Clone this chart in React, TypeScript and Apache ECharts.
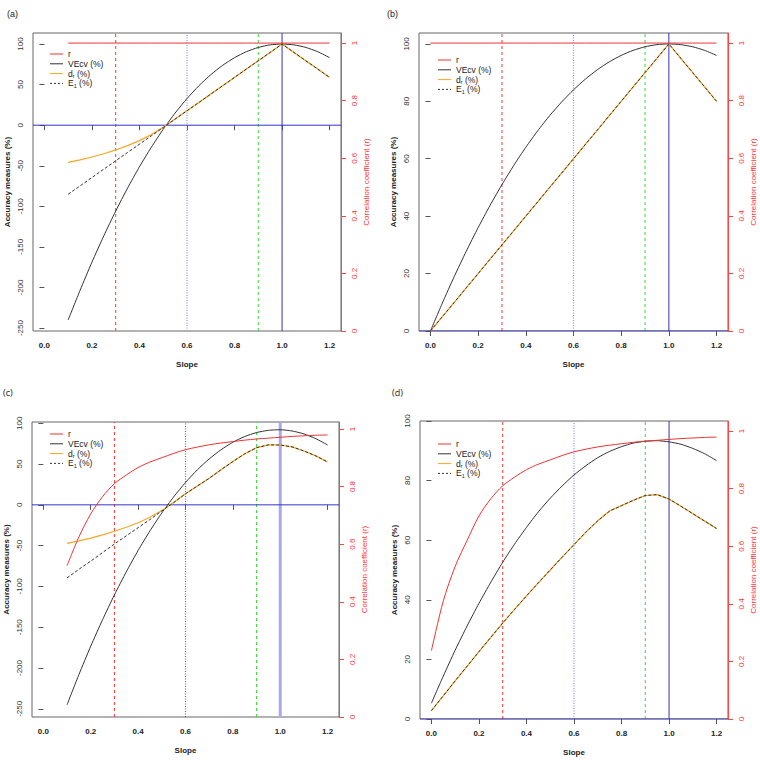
import React, { useEffect, useRef } from "react";
import * as echarts from "echarts";

// Slope values
const slopeFrom01 = [0.1, 0.15, 0.2, 0.25, 0.3, 0.35, 0.4, 0.45, 0.5, 0.55, 0.6, 0.65, 0.7, 0.75, 0.8, 0.85, 0.9, 0.95, 1.0, 1.05, 1.1, 1.15, 1.2];
const slopeFrom0 = [0, 0.05, 0.1, 0.15, 0.2, 0.25, 0.3, 0.35, 0.4, 0.45, 0.5, 0.55, 0.6, 0.65, 0.7, 0.75, 0.8, 0.85, 0.9, 0.95, 1.0, 1.05, 1.1, 1.15, 1.2];

// Panel (a)
const rA = [1, 1, 1, 1, 1, 1, 1, 1, 1, 1, 1, 1, 1, 1, 1, 1, 1, 1, 1, 1, 1, 1, 1];
const vecvA = [-240, -203.5, -168.8, -136.3, -105.8, -77.5, -51.2, -27.1, -5, 15, 32.8, 48.6, 62.2, 73.8, 83.2, 90.6, 95.8, 99, 100, 99, 95.8, 90.6, 83.2];
const drA = [-45.9, -42.8, -39.2, -35.2, -30.5, -25.2, -19, -11.6, -2.7, 7.5, 17.8, 28, 38.3, 48.6, 58.9, 69.2, 79.4, 89.7, 100, 89.7, 79.4, 69.2, 58.9];
const e1A = [-85, -74.8, -64.5, -54.2, -43.9, -33.6, -23.4, -13.1, -2.8, 7.5, 17.8, 28, 38.3, 48.6, 58.9, 69.2, 79.4, 89.7, 100, 89.7, 79.4, 69.2, 58.9];

// Panel (b)
const rB = [1, 1, 1, 1, 1, 1, 1, 1, 1, 1, 1, 1, 1, 1, 1, 1, 1, 1, 1, 1, 1, 1, 1, 1, 1];
const vecvB = [0, 9.75, 19, 27.75, 36, 43.75, 51, 57.75, 64, 69.75, 75, 79.75, 84, 87.75, 91, 93.75, 96, 97.75, 99, 99.75, 100, 99.75, 99, 97.75, 96];
const drB = [0, 5, 10, 15, 20, 25, 30, 35, 40, 45, 50, 55, 60, 65, 70, 75, 80, 85, 90, 95, 100, 95, 90, 85, 80];
const e1B = [0, 5, 10, 15, 20, 25, 30, 35, 40, 45, 50, 55, 60, 65, 70, 75, 80, 85, 90, 95, 100, 95, 90, 85, 80];

// Panel (c)
const rC = [0.525, 0.625, 0.705, 0.765, 0.81, 0.84, 0.866, 0.885, 0.9, 0.915, 0.928, 0.937, 0.945, 0.951, 0.956, 0.961, 0.965, 0.968, 0.971, 0.974, 0.976, 0.978, 0.979];
const vecvC = [-245, -208, -173.2, -140.7, -110.3, -82.1, -55.9, -31.9, -10, 9.7, 27.4, 42.9, 56.3, 67.5, 76.7, 83.7, 88.6, 91.3, 92, 90.5, 86.9, 81.1, 73.3];
const drC = [-47.2, -44.1, -40.8, -36.9, -32.4, -27.5, -21.9, -15.3, -7, 2.8, 13.5, 23, 32.5, 43, 53, 62.5, 70, 73.5, 73.3, 71, 66, 60, 52.5];
const e1C = [-89.5, -79, -69, -58.5, -48, -38, -28, -18, -7.5, 2.8, 13.5, 23, 32.5, 43, 53, 62.5, 70, 73.5, 73.3, 71, 66, 60, 52.5];

// Panel (d)
const rD = [0.237, 0.41, 0.53, 0.62, 0.705, 0.765, 0.81, 0.84, 0.866, 0.885, 0.9, 0.915, 0.928, 0.937, 0.945, 0.951, 0.956, 0.961, 0.965, 0.968, 0.971, 0.974, 0.976, 0.978, 0.979];
const vecvD = [5.3, 14.4, 23.1, 31.2, 38.8, 45.9, 52.6, 58.7, 64.3, 69.5, 74.1, 78.2, 81.9, 85, 87.7, 89.8, 91.4, 92.6, 93.2, 93.4, 93, 92.2, 90.8, 89, 86.7];
const drD = [2.8, 7.8, 12.8, 17.7, 22.6, 27.4, 32.2, 36.8, 41.3, 45.7, 50, 54.3, 58.5, 62.7, 66.5, 69.8, 71.6, 73.4, 75, 75.3, 73.8, 71.4, 68.9, 66.4, 63.9];
const e1D = [2.8, 7.8, 12.8, 17.7, 22.6, 27.4, 32.2, 36.8, 41.3, 45.7, 50, 54.3, 58.5, 62.7, 66.5, 69.8, 71.6, 73.4, 75, 75.3, 73.8, 71.4, 68.9, 66.4, 63.9];

// Ticks
const xTicks = [0, 0.2, 0.4, 0.6, 0.8, 1.0, 1.2];
const yTicksWide = [-250, -200, -150, -100, -50, 0, 50, 100];
const yTicksNarrow = [0, 20, 40, 60, 80, 100];
const rTicks = [0, 0.2, 0.4, 0.6, 0.8, 1];

// Reference lines (slope values and accuracy value)
const refSlopes = [0.3, 0.6, 0.9, 1.0];
const refAccuracy = 0;

const panelLabels = ["(a)", "(b)", "(c)", "(d)"];
const legendNames = ["r", "VEcv (%)", "dr (%)", "E1 (%)"];

const FONT = "'Liberation Sans', Arial, Helvetica, sans-serif";
const X_MIN = -0.048;
const X_MAX = 1.248;

const panels = [
  { label: panelLabels[0], xs: slopeFrom01, r: rA, vecv: vecvA, dr: drA, e1: e1A, yTicks: yTicksWide, yMin: -253.6, yMax: 113.6, rMax: 1.035, grid: { left: 33, top: 33, width: 308, height: 298 }, labelPos: [7, 9], legend: [50, 54], blue1Width: 1, blue1Color: "#3333bb", dotColor: "#9090ff", smoothR: false, labelFont: FONT },
  { label: panelLabels[1], xs: slopeFrom0, r: rB, vecv: vecvB, dr: drB, e1: e1B, yTicks: yTicksNarrow, yMin: 0, yMax: 103.8, rMax: 1.035, grid: { left: 419, top: 33, width: 309, height: 298 }, labelPos: [387, 9], legend: [438, 60], blue1Width: 1, blue1Color: "#3333bb", dotColor: "#9090ff", smoothR: false, labelFont: FONT },
  { label: panelLabels[2], xs: slopeFrom01, r: rC, vecv: vecvC, dr: drC, e1: e1C, yTicks: yTicksWide, yMin: -260, yMax: 101.5, rMax: 1.024, grid: { left: 32, top: 422, width: 307, height: 295 }, labelPos: [3, 388], legend: [50, 434], blue1Width: 3, blue1Color: "#a8a8f0", dotColor: "#6060cc", smoothR: true, labelFont: "'Open Sans', 'Noto Sans', sans-serif" },
  { label: panelLabels[3], xs: slopeFrom0, r: rD, vecv: vecvD, dr: drD, e1: e1D, yTicks: yTicksNarrow, yMin: 0, yMax: 100, rMax: 1.035, grid: { left: 420, top: 421, width: 308, height: 298 }, labelPos: [392, 388], legend: [438, 444], blue1Width: 1, blue1Color: "#3333bb", dotColor: "#9090ff", smoothR: true, labelFont: "'Open Sans', 'Noto Sans', sans-serif" },
];

function pairs(xs: number[], ys: number[]) {
  return xs.map((x, i) => [x, ys[i]]);
}

export default function App() {
  const ref = useRef<HTMLDivElement>(null);
  useEffect(() => {
    if (!ref.current) return;
    const chart = echarts.init(ref.current, null, { renderer: "svg" });
    const grid: any[] = [];
    const xAxis: any[] = [];
    const yAxis: any[] = [];
    const series: any[] = [];
    const graphic: any[] = [];

    panels.forEach((p, i) => {
      grid.push({ ...p.grid, show: true, borderColor: "#666", borderWidth: 1, backgroundColor: "transparent" });
      xAxis.push({
        type: "value", gridIndex: i, min: X_MIN, max: X_MAX,
        axisLine: { show: false },
        axisTick: { show: true, customValues: xTicks, length: 5, lineStyle: { color: "#555" } },
        axisLabel: { customValues: xTicks, formatter: (v: number) => v.toFixed(1), fontFamily: FONT, fontSize: 8, fontWeight: "bold", color: "#222", margin: 10 },
        splitLine: { show: false },
        name: "Slope", nameLocation: "middle", nameGap: 29,
        nameTextStyle: { fontFamily: FONT, fontSize: 8, fontWeight: "bold", color: "#222" },
      });
      yAxis.push({
        type: "value", gridIndex: i, position: "left", min: p.yMin, max: p.yMax,
        axisLine: { show: false },
        axisTick: { show: true, customValues: p.yTicks, length: 5, lineStyle: { color: "#555" } },
        axisLabel: { customValues: p.yTicks, rotate: 90, fontFamily: FONT, fontSize: 8, color: "#333", margin: 9 },
        splitLine: { show: false },
        name: "Accuracy measures (%)", nameLocation: "middle", nameGap: 22, nameRotate: 90,
        nameTextStyle: { fontFamily: FONT, fontSize: 8, fontWeight: "bold", color: "#222" },
      });
      yAxis.push({
        type: "value", gridIndex: i, position: "right", min: 0, max: p.rMax,
        axisLine: { show: true, lineStyle: { color: "#ff4444", width: 1 } },
        axisTick: { show: true, customValues: rTicks, length: 5, lineStyle: { color: "#ff4444" } },
        axisLabel: { customValues: rTicks, rotate: 90, fontFamily: FONT, fontSize: 8, color: "#ff3333", margin: 9 },
        splitLine: { show: false },
        name: "Correlation coefficient (r)", nameLocation: "middle", nameGap: 21, nameRotate: 90,
        nameTextStyle: { fontFamily: FONT, fontSize: 8, color: "#ff3333" },
      });
      const yl = 2 * i;
      const yr = 2 * i + 1;
      const refStyles = [
        { color: "#ff3333", type: [3, 3], width: 1 },
        { color: p.dotColor, type: [1, 1.5], width: 1.2 },
        { color: "#33dd33", type: [3, 3], width: 1 },
        { color: p.blue1Color, type: "solid", width: p.blue1Width },
      ];
      refSlopes.forEach((s, k) => {
        series.push({
          type: "line", xAxisIndex: i, yAxisIndex: yl, silent: true, showSymbol: false, z: 1,
          data: [[s, p.yMin], [s, p.yMax]], lineStyle: refStyles[k],
        });
      });
      series.push({
        type: "line", xAxisIndex: i, yAxisIndex: yl, silent: true, showSymbol: false, z: 1,
        data: [[X_MIN, refAccuracy], [X_MAX, refAccuracy]], lineStyle: { color: "#3333cc", width: 1, type: "solid" },
      });
      series.push({ name: "VEcv", type: "line", xAxisIndex: i, yAxisIndex: yl, data: pairs(p.xs, p.vecv), showSymbol: false, smooth: 0.2, lineStyle: { color: "#333", width: 1 }, z: 3 });
      series.push({ name: "dr", type: "line", xAxisIndex: i, yAxisIndex: yl, data: pairs(p.xs, p.dr), showSymbol: false, lineStyle: { color: "#f5a623", width: 1.2 }, z: 3 });
      series.push({ name: "E1", type: "line", xAxisIndex: i, yAxisIndex: yl, data: pairs(p.xs, p.e1), showSymbol: false, lineStyle: { color: "#333", width: 1, type: [3, 2] }, z: 4 });
      series.push({ name: "r", type: "line", xAxisIndex: i, yAxisIndex: yr, data: pairs(p.xs, p.r), showSymbol: false, smooth: p.smoothR ? 0.3 : false, lineStyle: { color: "#ee3333", width: 1 }, z: 4 });

      // panel label
      graphic.push({ type: "text", left: p.labelPos[0], top: p.labelPos[1], style: { text: p.label, font: `9px ${p.labelFont}`, fill: "#222" } });
      // legend
      const [lx, ly] = p.legend;
      const colors = ["#ee3333", "#333", "#f5a623", "#333"];
      legendNames.forEach((nm, k) => {
        const y = ly + k * 9.8;
        graphic.push({
          type: "line", shape: { x1: lx, y1: y, x2: lx + 13, y2: y },
          style: { stroke: colors[k], lineWidth: 1, lineDash: k === 3 ? [2, 2] : null },
        });
        let text = nm;
        if (k === 2) text = "d{s|r} (%)";
        if (k === 3) text = "E{s|1} (%)";
        graphic.push({
          type: "text", x: lx + 18, y: y, style: {
            text, font: `8.5px ${FONT}`, fill: "#222", verticalAlign: "middle",
            rich: { s: { fontSize: 5.5, fontFamily: FONT, fill: "#222", padding: [5, 0, 0, 0] } },
          },
        });
      });
    });

    chart.setOption({
      animation: false,
      backgroundColor: "#fff",
      grid, xAxis, yAxis, series, graphic,
    });
    return () => chart.dispose();
  }, []);
  return <div ref={ref} style={{ position: "fixed", left: 0, top: 0, width: 760, height: 760 }} />;
}
